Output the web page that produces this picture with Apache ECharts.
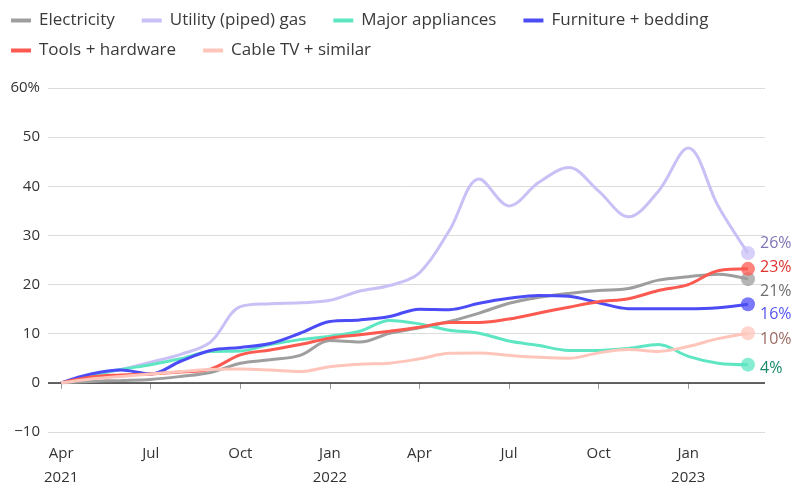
<!DOCTYPE html>
<html>
<head>
<meta charset="utf-8">
<script src="https://cdn.jsdelivr.net/npm/echarts@6/dist/echarts.min.js"></script>
<style>
html,body{margin:0;padding:0;background:#fff;}
#chart{width:794px;height:487px;}
</style>
</head>
<body>
<div id="chart"></div>
<script>
// Monthly, Apr 2021 (index 0) to Mar 2023 (index 23)
const tickMonths = [0, 3, 6, 9, 12, 15, 18, 21];
const tickLabels = ['Apr\n2021', 'Jul', 'Oct', 'Jan\n2022', 'Apr', 'Jul', 'Oct', 'Jan\n2023'];

const seriesNames = ['Electricity', 'Utility (piped) gas', 'Major appliances', 'Furniture + bedding', 'Tools + hardware', 'Cable TV + similar'];

const electricity = [0, 0.3, 0.5, 0.7, 1.3, 2.1, 4.0, 4.7, 5.6, 8.6, 8.3, 10.1, 11.2, 12.5, 14.2, 16.2, 17.4, 18.2, 18.8, 19.2, 20.9, 21.6, 22.1, 21.1];
const gas = [0, 1.5, 2.7, 4.2, 5.8, 8.3, 15.5, 16.1, 16.3, 16.8, 18.7, 19.8, 22.4, 31.0, 41.5, 36.0, 40.8, 43.8, 39.0, 33.8, 39.0, 47.8, 36.0, 26.4];
const appliances = [0, 1.5, 2.7, 3.7, 4.9, 6.4, 6.5, 7.8, 8.8, 9.5, 10.5, 12.7, 12.0, 10.7, 10.1, 8.5, 7.6, 6.6, 6.6, 7.0, 7.8, 5.4, 4.0, 3.7];
const furniture = [0, 1.8, 2.6, 1.8, 4.4, 6.6, 7.2, 8.0, 10.1, 12.5, 12.8, 13.5, 15.0, 14.9, 16.2, 17.2, 17.8, 17.6, 16.3, 15.1, 15.1, 15.1, 15.3, 16.0];
const tools = [0, 1.2, 1.6, 1.8, 2.2, 2.8, 5.7, 6.7, 7.8, 9.1, 9.8, 10.5, 11.3, 12.3, 12.3, 13.0, 14.2, 15.4, 16.5, 17.1, 18.8, 20.0, 22.8, 23.2];
const cable = [0, 0.8, 1.3, 1.8, 2.3, 2.7, 2.8, 2.6, 2.3, 3.3, 3.8, 4.0, 4.9, 6.0, 6.1, 5.6, 5.2, 5.0, 6.1, 6.8, 6.4, 7.4, 9.0, 10.1];

const endLabels = ['21%', '26%', '4%', '16%', '23%', '10%'];

const allData = [electricity, gas, appliances, furniture, tools, cable];
const lineColors = ['#9e9e9e', '#c9c0f6', '#5ee6c3', '#4c4cf7', '#fc5a50', '#ffc5bb'];
const labelColors = ['#6e6e6e', '#7f74b6', '#17896a', '#5656f2', '#e0342d', '#9b6b62'];
const labelOffsets = [[0, 12], [0, -10], [0, 4], [0, 10], [0, -1], [0, 6]];

const FONT = 'Open Sans';
const chart = echarts.init(document.getElementById('chart'));

const series = allData.map((arr, k) => {
  const s = {
    name: seriesNames[k],
    type: 'line',
    data: arr.map((v, i) => [i, v]),
    smooth: 0.35,
    showSymbol: true,
    symbol: 'circle',
    symbolSize: (v, p) => (p.dataIndex === arr.length - 1 ? 14 : 0),
    lineStyle: { color: lineColors[k], width: 3 },
    itemStyle: { color: lineColors[k], opacity: 0.75 },
    emphasis: { disabled: true },
    endLabel: {
      show: true,
      formatter: endLabels[k],
      color: labelColors[k],
      fontFamily: FONT,
      fontSize: 16,
      distance: 12,
      offset: labelOffsets[k]
    },
    z: 2 + k
  };
  if (k === 0) {
    s.markLine = {
      silent: true,
      symbol: ['none', 'none'],
      label: { show: false },
      lineStyle: { color: '#333', width: 1.5, type: 'solid' },
      data: [{ yAxis: 0 }],
      z: 1
    };
  }
  return s;
});

const legendBase = {
  left: 6,
  icon: 'rect',
  itemWidth: 20,
  itemHeight: 4,
  itemGap: 27,
  textStyle: { fontFamily: FONT, fontSize: 17, color: '#3a3a3a', padding: [0, 0, 0, 3] },
  itemStyle: { opacity: 1 },
  selectedMode: false
};

chart.setOption({
  animation: false,
  backgroundColor: '#fff',
  legend: [
    Object.assign({}, legendBase, { top: 7, data: seriesNames.slice(0, 4) }),
    Object.assign({}, legendBase, { top: 37, data: seriesNames.slice(4) })
  ],
  grid: { left: 48, right: 29, top: 88, bottom: 55, containLabel: false, outerBoundsMode: 'none' },
  xAxis: {
    type: 'value',
    min: -0.44,
    max: 23.57,
    axisLine: { show: false },
    splitLine: { show: false },
    axisTick: { show: true, customValues: tickMonths, length: 6, lineStyle: { color: '#999' } },
    axisLabel: {
      customValues: tickMonths,
      formatter: v => tickLabels[tickMonths.indexOf(v)],
      fontFamily: FONT,
      fontSize: 15,
      color: '#333',
      lineHeight: 24,
      margin: 10
    }
  },
  yAxis: {
    type: 'value',
    min: -10,
    max: 60,
    interval: 10,
    axisLine: { show: false },
    axisTick: { show: false },
    splitLine: { lineStyle: { color: '#dcdcdc', width: 1 } },
    axisLabel: {
      formatter: v => (v === 60 ? '60%' : (v < 0 ? '\u2212' + Math.abs(v) : String(v))),
      fontFamily: FONT,
      fontSize: 15,
      color: '#333',
      margin: 8
    }
  },
  series: series
});
</script>
</body>
</html>
